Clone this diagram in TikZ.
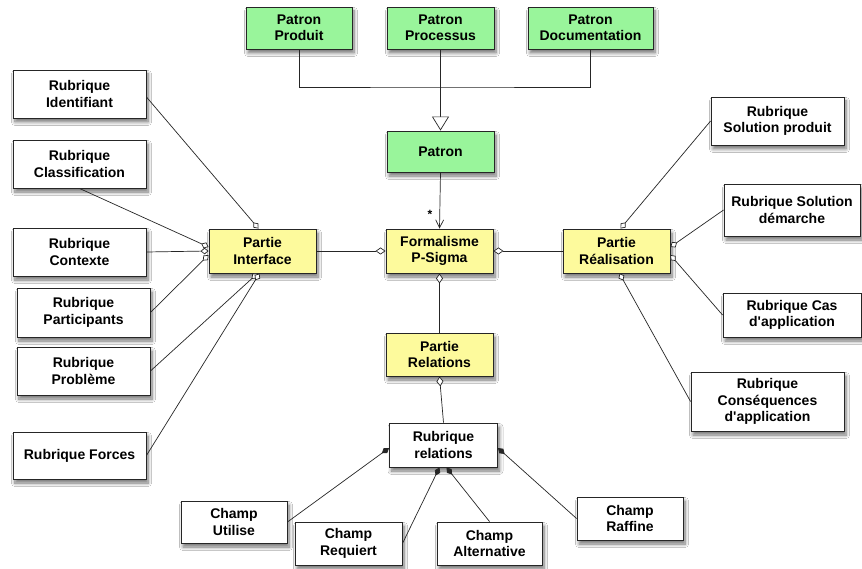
\documentclass[tikz,border=0pt]{standalone}
\usepackage{fontspec}
\setmainfont{Liberation Sans}[Ligatures=TeXOff]
\usetikzlibrary{arrows.meta,shadows.blur,calc}
\definecolor{patgreen}{HTML}{99F59B}
\definecolor{partyellow}{HTML}{FDFA9C}

\begin{document}
\begin{tikzpicture}[x=1pt,y=1pt,
  link/.style={draw=black!85, line width=0.7pt},
  box/.style={draw=black!85, line width=0.9pt, fill=white, align=center, inner sep=0pt,
    font=\fontsize{14}{16.5}\selectfont\bfseries,
    blur shadow={shadow xshift=2pt, shadow yshift=-4pt, shadow blur radius=3.5pt,
      shadow blur steps=8, shadow opacity=55}},
  patbox/.style={box, fill=patgreen},
  partbox/.style={box, fill=partyellow},
  sz/.style 2 args={minimum width=#1, minimum height=#2},
  agg/.style={link, -{Diamond[fill=white, length=10pt, width=7pt, line width=0.7pt]}},
  aggs/.style={link, -{Diamond[fill=white, length=8pt, width=6.5pt, line width=0.7pt]}},
  comp/.style={link, -{Diamond[length=9pt, width=6pt]}},
  inh/.style={link, -{Triangle[fill=white, length=14pt, width=17pt, line width=0.7pt]}},
  assoc/.style={link, -{Straight Barb[length=8pt, width=8pt, line width=0.7pt]}}]

\fill[white] (0,0) rectangle (862,-569);
\useasboundingbox (0,0) rectangle (862,-569);

% pattern hierarchy
\node[patbox, sz={106pt}{42pt}] (pprod) at (299,-28) {Patron\\Produit};
\node[patbox, sz={107pt}{42pt}] (pproc) at (440.5,-28) {Patron\\Processus};
\node[patbox, sz={125pt}{42pt}] (pdoc) at (590.5,-28) {Patron\\Documentation};
\node[patbox, sz={107pt}{41pt}] (patron) at (440.5,-151.5) {Patron};

% central parts
\node[partbox, sz={107pt}{44pt}] (form) at (439.5,-251) {Formalisme\\P-Sigma};
\node[partbox, sz={107pt}{44pt}] (intf) at (262.5,-251) {Partie\\Interface};
\node[partbox, sz={107pt}{44pt}] (real) at (616.5,-251) {Partie\\Réalisation};
\node[partbox, sz={107pt}{43pt}] (rel) at (439.5,-354.5) {Partie\\Relations};
\node[box, sz={108pt}{44pt}] (rrel) at (443.5,-445) {Rubrique\\relations};

% interface rubrics
\node[box, sz={133pt}{48pt}] (ident) at (79.5,-94) {Rubrique\\Identifiant};
\node[box, sz={133pt}{48pt}] (classif) at (79.5,-164) {Rubrique\\Classification};
\node[box, sz={133pt}{48pt}] (context) at (79.5,-252) {Rubrique\\Contexte};
\node[box, sz={133pt}{49pt}] (partic) at (83.5,-312.5) {Rubrique\\Participants};
\node[box, sz={133pt}{48pt}] (probl) at (83.5,-371) {Rubrique\\Problème};
\node[box, sz={133pt}{47pt}] (forces) at (79.5,-455.5) {Rubrique Forces};

% realisation rubrics
\node[box, sz={133pt}{48pt}] (solprod) at (777.5,-121) {Rubrique\\Solution produit};
\node[box, sz={136pt}{52pt}] (soldem) at (792,-210) {Rubrique Solution\\démarche};
\node[box, sz={138pt}{44pt}] (cas) at (792,-315) {Rubrique Cas\\d'application};
\node[box, sz={153pt}{59pt}] (conseq) at (767.5,-401.5) {Rubrique\\Conséquences\\d'application};

% relation fields
\node[box, sz={106pt}{42pt}] (utilise) at (234,-522) {Champ\\Utilise};
\node[box, sz={107pt}{43pt}] (requiert) at (348.5,-543.5) {Champ\\Requiert};
\node[box, sz={105pt}{43pt}] (altern) at (489.5,-543.5) {Champ\\Alternative};
\node[box, sz={106pt}{43pt}] (raffine) at (630,-518.5) {Champ\\Raffine};

% generalisation
\coordinate (bar) at (440,-87);
\draw[link] (pprod.south) |- (bar) -| (pdoc.south);
\draw[inh] (pproc.south) -- (patron.north);

% association to the formalism
\draw[assoc] (patron.south) -- (form.north);
\node[font=\fontsize{12}{12}\selectfont\bfseries, inner sep=0pt] (mult) at (430,-214) {*};

% aggregations of the formalism
\draw[agg] (intf.east) -- (form.west);
\draw[agg] (real.west) -- (form.east);
\draw[agg] (rel.north) -- (form.south);
\draw[agg] (rrel.north) -- (rel.south);

% interface part
\coordinate (iT) at ($(intf.north)+(-4,0)$);
\coordinate (iL1) at ($(intf.west)+(0,4)$);
\coordinate (iL2) at (intf.west);
\coordinate (iL3) at ($(intf.west)+(0,-4)$);
\coordinate (iB1) at ($(intf.south)+(-5,0)$);
\coordinate (iB2) at ($(intf.south)+(-3,0)$);
\draw[aggs] ($(ident.east)+(0,-3)$) -- (iT);
\draw[aggs] (classif.south) -- (iL1);
\draw[aggs] (context.east) -- (iL2);
\draw[aggs] (partic.east) -- (iL3);
\draw[aggs] (probl.east) -- (iB1);
\draw[aggs] (forces.east) -- (iB2);

% realisation part
\coordinate (rT) at ($(real.north)+(4,0)$);
\coordinate (rR1) at ($(real.east)+(0,4)$);
\coordinate (rR2) at ($(real.east)+(0,-4)$);
\coordinate (rB) at ($(real.south)+(3,0)$);
\draw[aggs] (solprod.west) -- (rT);
\draw[aggs] (soldem.west) -- (rR1);
\draw[aggs] (cas.west) -- (rR2);
\draw[aggs] (conseq.west) -- (rB);

% relation fields
\coordinate (qL) at ($(rrel.west)+(0,-3)$);
\coordinate (qR) at ($(rrel.east)+(0,-3)$);
\coordinate (qB1) at ($(rrel.south)+(-4,0)$);
\coordinate (qB2) at ($(rrel.south)+(3,0)$);
\draw[comp] (utilise.east) -- (qL);
\draw[comp] (raffine.west) -- (qR);
\draw[comp] (requiert.east) -- (qB1);
\draw[comp] (altern.north) -- (qB2);
\end{tikzpicture}
\end{document}
